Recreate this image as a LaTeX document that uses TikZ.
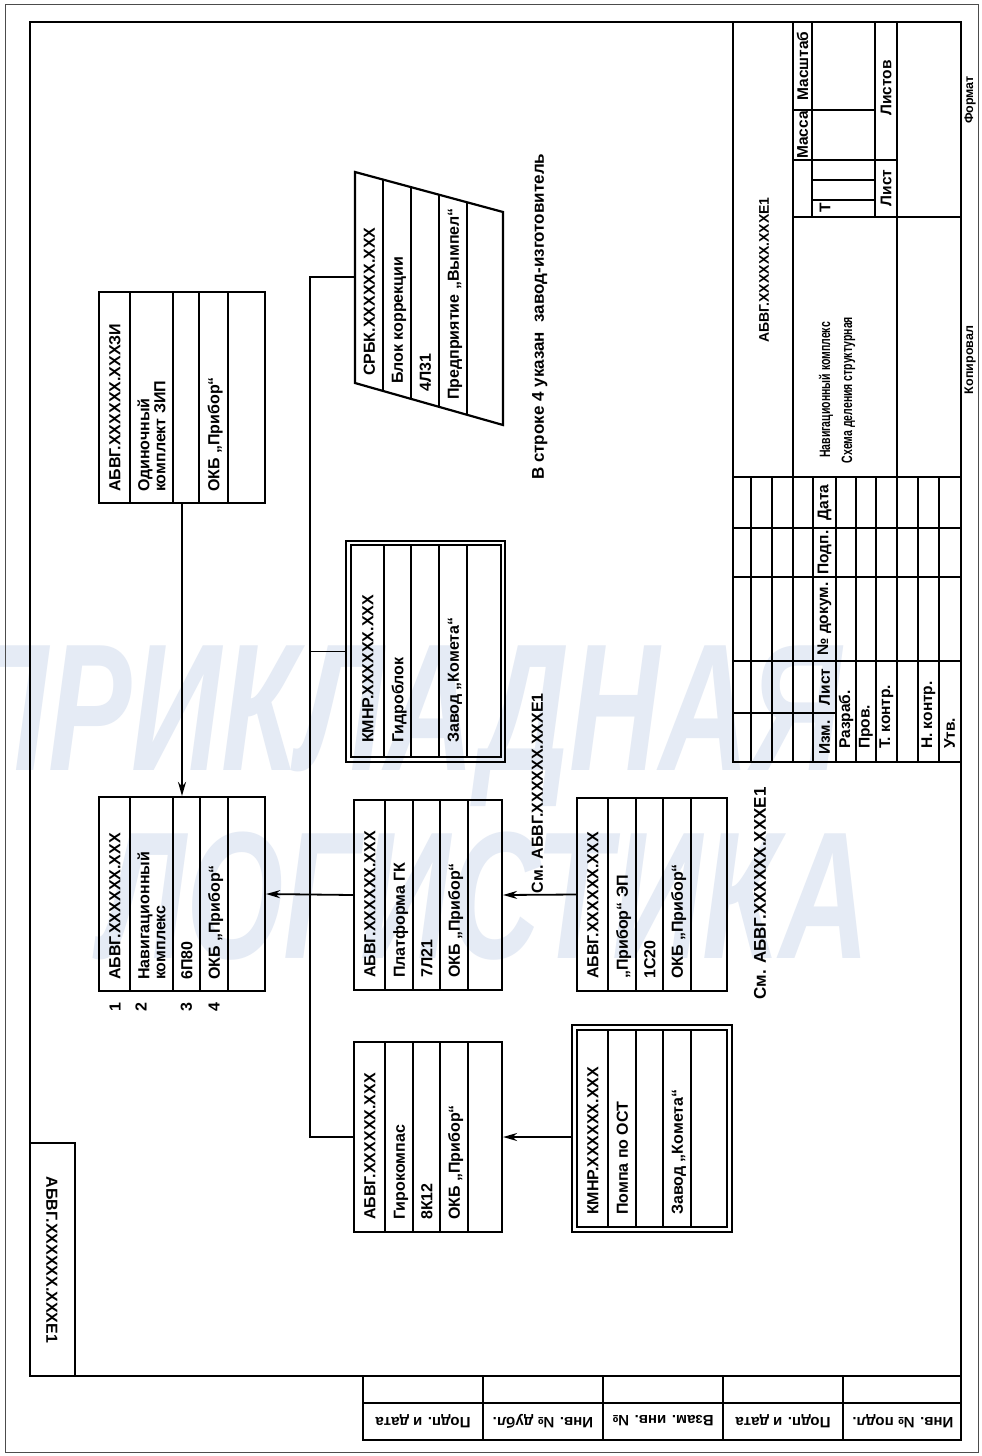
\documentclass[tikz,border=0pt]{standalone}
\usepackage{fontspec}
\setmainfont{Liberation Sans}
\usetikzlibrary{arrows.meta, calc}

\definecolor{znak}{RGB}{229,235,245}

\tikzset{
  list/.style={line width=0.8pt, black!70},
  ramka/.style={line width=2.5pt},
  setka/.style={line width=1.9pt},
  blok/.style={draw, line width=2.2pt, inner sep=0pt},
  obvod/.style={draw, line width=1.1pt, inner sep=0pt},
  svyaz/.style={line width=1.8pt},
  strelka/.style={line width=1.8pt, -{Stealth[length=14pt, width=8pt]}},
  nadp/.style={rotate=90, anchor=west, inner sep=0pt, text height=11.5pt, text depth=0pt, font=\fontsize{16}{17}\selectfont\bfseries},
  nadp2/.style={rotate=90, anchor=west, inner sep=0pt, align=left, font=\fontsize{16}{16}\selectfont\bfseries},
  shtamp/.style={rotate=90, inner sep=0pt, font=\fontsize{15.5}{16}\selectfont\bfseries},
  perev/.style={inner sep=0pt, font=\fontsize{15}{16}\selectfont\bfseries},
  vodznak/.style={znak, anchor=base, inner sep=0pt, yscale=1.45, font=\fontsize{125}{125}\selectfont\bfseries\itshape},
}

\begin{document}
\begin{tikzpicture}[x=1pt, y=-1pt]
    \useasboundingbox (0,0) rectangle (982,1456);
    \fill[white] (0,0) rectangle (982,1456);

    % водяной знак
    \node[vodznak] (zn1) at (400,770) {ПРИКЛАДНАЯ};
    \node[vodznak] (zn2) at (485,958) {ЛОГИСТИКА};

    % рамка
    \draw[list] (5,4) rectangle (978,1452);
    \draw[ramka] (30,22) rectangle (961,1376);

    % дополнительная графа
    \draw[setka] (30,1143) rectangle (75,1376);
    \node[perev, rotate=-90, font=\fontsize{16}{17}\selectfont\bfseries] (dop) at (52,1260) {АБВГ.XXXXXX.XXXE1};

    % боковая графа
    \draw[setka] (363,1376) rectangle (961,1440);
    \draw[setka] (363,1403) -- (961,1403);
    \foreach \x in {483,603,723,843} \draw[setka] (\x,1376) -- (\x,1440);
    \foreach \x/\t [count=\i] in {423/Подп. и дата, 543/Инв. № дубл., 663/Взам. инв. №, 783/Подп. и дата, 903/Инв. № подл.}
        \node[perev, rotate=180] (bg\i) at (\x,1421) {\t};

    % основная надпись
    \draw[ramka] (733,22) -- (733,762) -- (961,762);
    \draw[setka] (793,22) -- (793,762);
    \draw[setka] (897,22) -- (897,762);
    \draw[setka] (733,477) -- (961,477);
    \draw[setka] (793,217) -- (961,217);
    \foreach \x in {751,772,813,836,856,876,918,939} \draw[setka] (\x,477) -- (\x,762);
    \foreach \y in {528,577,661} \draw[setka] (733,\y) -- (961,\y);
    \draw[setka] (733,713) -- (836,713);
    \draw[setka] (812,22) -- (812,217);
    \draw[setka] (875,22) -- (875,217);
    \draw[setka] (793,110) -- (875,110);
    \draw[setka] (793,160) -- (897,160);
    \draw[setka] (812,180) -- (875,180);
    \draw[setka] (812,200) -- (875,200);

    \foreach \y/\t [count=\i] in {737.5/Изм., 687/Лист, 619/№ докум., 552.5/Подп., 502.5/Дата}
        \node[shtamp] (sh\i) at (824.5,\y) {\t};
    \foreach \x/\t [count=\i] in {846/Разраб., 866/Пров., 886.5/Т. контр., 928.5/Н. контр., 949.5/Утв.}
        \node[shtamp, anchor=west] (fam\i) at (\x,749) {\t};
    \node[shtamp, font=\fontsize{14}{15}\selectfont\bfseries] (oboz) at (764,270) {АБВГ.XXXXXX.XXXE1};
    \node[shtamp, align=center, xscale=0.7, font=\fontsize{15}{22}\selectfont\bfseries] (naim) at (837,390)
        {Навигационный комплекс\\Схема деления структурная};
    \node[shtamp] (massa) at (802.5,135) {Масса};
    \node[shtamp] (masht) at (802.5,66) {Масштаб};
    \node[shtamp] (lit) at (825,208) {Т};
    \node[shtamp] (lst) at (886,188) {Лист};
    \node[shtamp] (lstv) at (886,88) {Листов};
    \node[shtamp, font=\fontsize{12.5}{13}\selectfont\bfseries] (kop) at (970,360) {Копировал};
    \node[shtamp, font=\fontsize{12.5}{13}\selectfont\bfseries] (fmt) at (970,100) {Формат};

    % изделие
    \node[blok, minimum width=166, minimum height=194] (nk) at (182,894) {};
    \foreach \x in {130,173,200,228} \draw[setka] (\x,797) -- (\x,991);
    \node[nadp] (nk1) at (114.5,980) {АБВГ.XXXXXX.XXX};
    \node[nadp2] (nk2) at (151.5,980) {Навигационный\\комплекс};
    \node[nadp] (nk3) at (186.5,980) {6П80};
    \node[nadp] (nk4) at (214,980) {ОКБ „Прибор“};
    \foreach \x/\n in {115/1, 141/2, 186.5/3, 214/4}
        \node[shtamp, font=\fontsize{16}{17}\selectfont\bfseries] (num\n) at (\x,1007) {\n};

    % ЗИП
    \node[blok, minimum width=166, minimum height=211] (zip) at (182,397.5) {};
    \foreach \x in {130,173,199,228} \draw[setka] (\x,292) -- (\x,503);
    \node[nadp] (zip1) at (114.5,492) {АБВГ.XXXXXX.XXXЗИ};
    \node[nadp2] (zip2) at (151.5,492) {Одиночный\\комплект ЗИП};
    \node[nadp] (zip4) at (213.5,492) {ОКБ „Прибор“};

    % платформа ГК
    \node[blok, minimum width=148, minimum height=190] (plat) at (428,895) {};
    \foreach \x in {385,413,440,468} \draw[setka] (\x,800) -- (\x,990);
    \foreach \x/\t [count=\i] in {369.5/АБВГ.XXXXXX.XXX, 399/Платформа ГК, 426.5/7Л21, 454/ОКБ „Прибор“}
        \node[nadp] (plat\i) at (\x,978) {\t};

    % гирокомпас
    \node[blok, minimum width=148, minimum height=190] (gk) at (428,1137) {};
    \foreach \x in {385,413,440,468} \draw[setka] (\x,1042) -- (\x,1232);
    \foreach \x/\t [count=\i] in {369.5/АБВГ.XXXXXX.XXX, 399/Гирокомпас, 426.5/8К12, 454/ОКБ „Прибор“}
        \node[nadp] (gk\i) at (\x,1220) {\t};

    % гидроблок
    \node[obvod, minimum width=159, minimum height=221] (gidro) at (425.5,651.5) {};
    \node[blok, minimum width=150, minimum height=212] (gidrov) at (426,651) {};
    \foreach \x in {384,411,439,467} \draw[setka] (\x,545) -- (\x,757);
    \foreach \x/\t [count=\i] in {367.5/КМНР.XXXXXX.XXX, 397.5/Гидроблок, 453/Завод „Комета“}
        \node[nadp] (gidro\i) at (\x,743) {\t};

    % блок коррекции
    \draw[setka, line width=2.2pt] (355,172) -- (503,212) -- (503,425) -- (355,383) -- cycle;
    \foreach \x in {383,411,439,467} \draw[setka] (\x,{172+(\x-355)*0.27}) -- (\x,{383+(\x-355)*0.284});
    \coordinate (srbk) at (355,277);
    \node[nadp] (srbk1) at (369,376) {СРБК.XXXXXX.XXX};
    \node[nadp] (srbk2) at (397,384) {Блок коррекции};
    \node[nadp] (srbk3) at (425,392) {4Л31};
    \node[nadp] (srbk4) at (453,400) {Предприятие „Вымпел“};

    % прибор ЭП
    \node[blok, minimum width=150, minimum height=193] (pribor) at (652,894.5) {};
    \foreach \x in {608,636,663,691} \draw[setka] (\x,798) -- (\x,991);
    \foreach \x/\t [count=\i] in {592.5/АБВГ.XXXXXX.XXX, 622/„Прибор“ ЭП, 649.5/1С20, 677/ОКБ „Прибор“}
        \node[nadp] (pribor\i) at (\x,979) {\t};

    % помпа
    \node[obvod, minimum width=160, minimum height=207] (pompa) at (652,1128.5) {};
    \node[blok, minimum width=150, minimum height=197] (pompav) at (652,1128.5) {};
    \foreach \x in {608,636,663,691} \draw[setka] (\x,1030) -- (\x,1227);
    \foreach \x/\t [count=\i] in {592.5/КМНР.XXXXXX.XXX, 622/Помпа по ОСТ, 677/Завод „Комета“}
        \node[nadp] (pompa\i) at (\x,1215) {\t};

    % связи
    \coordinate (shv) at (310,277);
    \draw[svyaz] (srbk) -- (shv) -- (shv |- gk.west) -- (gk.west);
    \draw[svyaz] (gidro.west) -- (gidro.west -| shv);
    \draw[strelka] (plat.west) -- (nk.east);
    \draw[strelka] (zip.south) -- (nk.north);
    \draw[strelka] (pribor.west) -- (plat.east);
    \draw[strelka] (pompa.west |- gk.east) -- (gk.east);

    % примечания
    \node[nadp, anchor=east, font=\fontsize{16}{17}\selectfont\bfseries] (sm1) at (537,693) {См. АБВГ.XXXXXX.XXXE1};
    \node[nadp, font=\fontsize{17}{18}\selectfont\bfseries] (sm2) at (760,1000) {См. АБВГ.XXXXXX.XXXE1};
    \node[nadp, font=\fontsize{17}{18}\selectfont\bfseries] (prim) at (538,480) {В строке 4 указан\ \ завод-изготовитель};
\end{tikzpicture}
\end{document}
